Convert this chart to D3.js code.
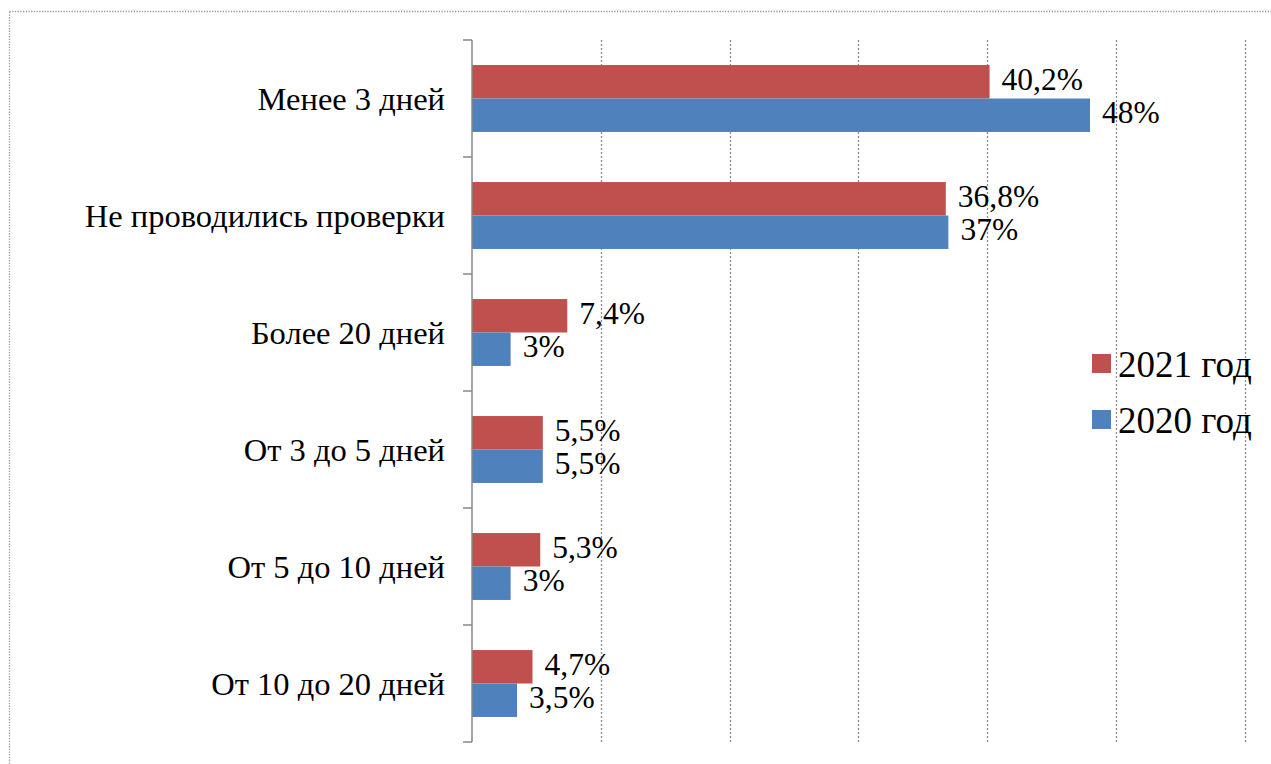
<!DOCTYPE html>
<html>
<head>
<meta charset="utf-8">
<script src="https://cdn.jsdelivr.net/npm/d3@7"></script>
<style>
  html, body { margin: 0; padding: 0; background: #fff; }
  svg { display: block; }
</style>
</head>
<body>
<svg id="chart" width="1271" height="764"></svg>
<script>
const categories = ["Менее 3 дней", "Не проводились проверки", "Более 20 дней", "От 3 до 5 дней", "От 5 до 10 дней", "От 10 до 20 дней"];
const seriesNames = ["2021 год", "2020 год"];
const values2021 = [40.2, 36.8, 7.4, 5.5, 5.3, 4.7];
const values2020 = [48, 37, 3, 5.5, 3, 3.5];
const labels2021 = ["40,2%", "36,8%", "7,4%", "5,5%", "5,3%", "4,7%"];
const labels2020 = ["48%", "37%", "3%", "5,5%", "3%", "3,5%"];
const xTicks = [0, 10, 20, 30, 40, 50, 60];
const colors = ["#C0504D", "#4F81BD"];
const FONT = "'Liberation Serif', 'Times New Roman', Times, serif";

const svg = d3.select("#chart");

// outer dotted border
svg.append("rect")
  .attr("x", 9.5).attr("y", 11.5)
  .attr("width", 1300).attr("height", 800)
  .attr("fill", "none")
  .attr("stroke", "#9a9a9a")
  .attr("stroke-width", 1.3)
  .attr("stroke-dasharray", "1.3,1.4");

const plotTop = 40, plotBottom = 742, x0 = 472, x1 = 1244.5;

const x = d3.scaleLinear().domain([0, 60]).range([x0, x1]);
const y = d3.scaleBand().domain(categories).range([plotTop, plotBottom]).padding(0);
const inner = d3.scaleBand().domain(seriesNames)
  .range([y.bandwidth() * 0.214, y.bandwidth() * 0.786]).padding(0);

// gridlines
svg.append("g").selectAll("line")
  .data(xTicks.filter(d => d > 0))
  .join("line")
  .attr("x1", d => Math.round(x(d)) + 0.5).attr("x2", d => Math.round(x(d)) + 0.5)
  .attr("y1", plotTop).attr("y2", plotBottom)
  .attr("stroke", "#8c8c8c")
  .attr("stroke-width", 1.3)
  .attr("stroke-dasharray", "2,2");

const rows = categories.map((c, i) => ({ c, vals: [values2021[i], values2020[i]], labs: [labels2021[i], labels2020[i]] }));

const groups = svg.append("g").selectAll("g")
  .data(rows)
  .join("g")
  .attr("transform", d => `translate(0,${y(d.c)})`);

groups.selectAll("rect")
  .data(d => d.vals.map((v, j) => ({ v, s: seriesNames[j], j })))
  .join("rect")
  .attr("x", x(0))
  .attr("y", d => inner(d.s))
  .attr("width", d => x(d.v) - x(0))
  .attr("height", inner.bandwidth())
  .attr("fill", d => colors[d.j]);

groups.selectAll("text.val")
  .data(d => d.vals.map((v, j) => ({ v, s: seriesNames[j], lab: d.labs[j] })))
  .join("text")
  .attr("class", "val")
  .attr("x", d => x(d.v) + 12)
  .attr("y", d => inner(d.s) + inner.bandwidth() / 2 + 8)
  .attr("font-family", FONT)
  .attr("font-size", 31.5)
  .attr("fill", "#000")
  .text(d => d.lab);

// y axis
const yAxis = d3.axisLeft(y).tickSize(0).tickFormat("");
const ax = svg.append("g").attr("transform", `translate(${x0},0)`).call(yAxis);
ax.select(".domain").remove();
ax.append("line").attr("x1", 0).attr("x2", 0).attr("y1", plotTop).attr("y2", plotBottom)
  .attr("stroke", "#878787").attr("stroke-width", 1.5);
const bounds = categories.map(c => y(c)).concat([plotBottom]);
ax.selectAll("line.bt").data(bounds).join("line").attr("class", "bt")
  .attr("x1", -9).attr("x2", 0)
  .attr("y1", d => d).attr("y2", d => d)
  .attr("stroke", "#878787").attr("stroke-width", 1.5);

svg.append("g").selectAll("text")
  .data(categories)
  .join("text")
  .attr("x", 445)
  .attr("y", d => y(d) + y.bandwidth() / 2 + 11.5)
  .attr("text-anchor", "end")
  .attr("font-family", FONT)
  .attr("font-size", 32.5)
  .attr("fill", "#000")
  .text(d => d);

// legend
const legend = svg.append("g").selectAll("g")
  .data(seriesNames)
  .join("g")
  .attr("transform", (d, i) => `translate(1092,${354 + i * 56})`);
legend.append("rect").attr("width", 19).attr("height", 19).attr("fill", (d, i) => colors[i]);
legend.append("text").attr("x", 26).attr("y", 23)
  .attr("font-family", FONT).attr("font-size", 37).attr("fill", "#000").text(d => d);
</script>
</body>
</html>
